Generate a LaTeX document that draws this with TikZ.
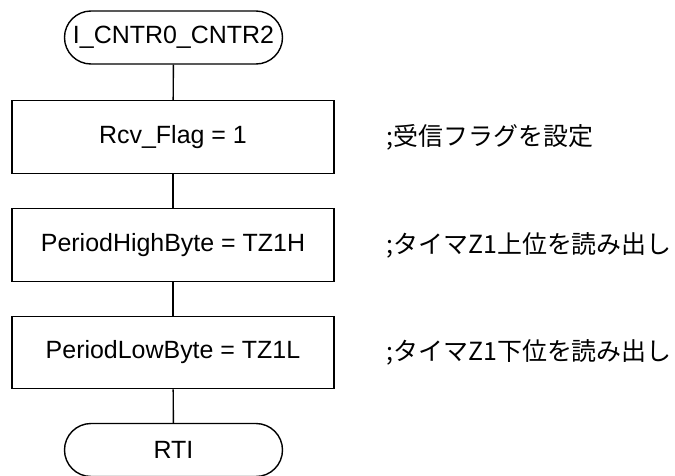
\documentclass[tikz,border=0pt]{standalone}
\usepackage{fontspec}
\setmainfont{Liberation Sans}
\newfontfamily\jpfont{Noto Sans CJK JP}
\usetikzlibrary{positioning}

\begin{document}
\begin{tikzpicture}[
    font=\fontsize{14.2}{17}\selectfont,
    line width=0.8pt,
    term/.style={rectangle, draw, rounded corners=0.53cm, minimum width=4.36cm, minimum height=1.06cm, inner sep=0pt},
    proc/.style={rectangle, draw, minimum width=6.44cm, minimum height=1.45cm, inner sep=0pt},
    note/.style={anchor=west, inner sep=0pt, font=\jpfont\fontsize{14.2}{17}\selectfont}
  ]
  \useasboundingbox (0,0) rectangle (13.5,-9.52);
  % Nodes
  \node (start) [term] at (3.47, -0.75) {I\_CNTR0\_CNTR2};
  \node (flag) [proc] at (3.46, -2.74) {Rcv\_Flag = 1};
  \node (high) [proc] at (3.46, -4.90) {PeriodHighByte = TZ1H};
  \node (low) [proc] at (3.46, -7.05) {PeriodLowByte = TZ1L};
  \node (rti) [term] at (3.47, -9.0) {RTI};
  % Comments
  \node (flagnote) [note, right=1.02cm of flag] {;受信フラグを設定};
  \node (highnote) [note, right=1.02cm of high] {;タイマZ1上位を読み出し};
  \node (lownote) [note, right=1.02cm of low] {;タイマZ1下位を読み出し};
  % Lines
  \draw (start) -- (flag);
  \draw (flag) -- (high);
  \draw (high) -- (low);
  \draw (low) -- (rti);
\end{tikzpicture}
\end{document}
